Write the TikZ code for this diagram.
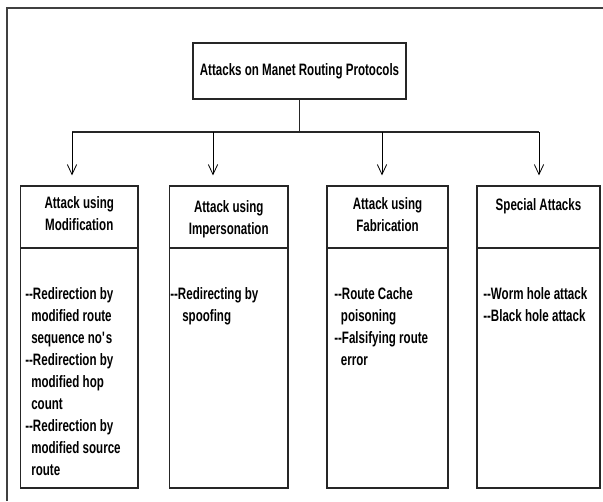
\documentclass[tikz,border=0pt]{standalone}
\usepackage{fontspec}
\setmainfont[FakeStretch=0.7]{Liberation Sans}
\usepackage{tikz}
\usetikzlibrary{arrows.meta}
\newcommand{\dsh}{\mbox{-}\mbox{-}}

\begin{document}
\begin{tikzpicture}[x=0.75pt, y=-0.75pt, every node/.style={font=\fontsize{12.4}{16.5}\selectfont\bfseries, inner sep=0pt}]
    % Styles
    \tikzstyle{outer} = [draw=black!75, line width=0.8pt]
    \tikzstyle{cell} = [rectangle, draw=black!85, line width=0.9pt]
    \tikzstyle{wire} = [draw=black!85, line width=1pt]
    \tikzstyle{arrow} = [-{Straight Barb[length=7.5pt, width=7pt]}, line width=0.6pt, shorten >=7.5pt]
    \tikzstyle{headtext} = [anchor=base, align=center]
    \tikzstyle{bodytext} = [anchor=base west, align=left]

    \useasboundingbox (0,0) rectangle (603,501);
    \draw[outer] (7,501) -- (7,8) -- (603,8);

    % Nodes
    \node[cell, minimum width=159.75pt, minimum height=42pt] (root) at (299.5,71) {Attacks on Manet Routing Protocols};

    \node[cell, minimum width=88.1pt, minimum height=46.5pt] (modhead) at (79.25,217) {};
    \node[cell, minimum width=88.1pt, minimum height=180pt] (modbody) at (79.25,368) {};
    \node[cell, minimum width=88.9pt, minimum height=46.5pt] (imphead) at (228.75,217) {};
    \node[cell, minimum width=88.9pt, minimum height=180pt] (impbody) at (228.75,368) {};
    \node[cell, minimum width=90.75pt, minimum height=46.5pt] (fabhead) at (387.5,217) {};
    \node[cell, minimum width=90.75pt, minimum height=180pt] (fabbody) at (387.5,368) {};
    \node[cell, minimum width=92.25pt, minimum height=46.5pt] (spchead) at (538.5,217) {};
    \node[cell, minimum width=92.25pt, minimum height=180pt] (spcbody) at (538.5,368) {};

    % Texts (base = last line)
    \node[headtext] (modtitle) at (79.25,230) {Attack using\\Modification};
    \node[headtext] (imptitle) at (228.75,234) {Attack using\\Impersonation};
    \node[headtext] (fabtitle) at (387.5,231) {Attack using\\Fabrication};
    \node[headtext] (spctitle) at (538.5,210) {Special Attacks};

    \node[bodytext] (modtext) at (25,475) {\dsh Redirection by\\\hspace{4.5pt}modified route\\\hspace{4.5pt}sequence no\textquotesingle s\\\dsh Redirection by\\\hspace{4.5pt}modified hop\\\hspace{4.5pt}count\\\dsh Redirection by\\\hspace{4.5pt}modified source\\\hspace{4.5pt}route};
    \node[bodytext] (imptext) at (170,321) {\dsh Redirecting by\\\hspace{9pt}spoofing};
    \node[bodytext] (fabtext) at (334,365) {\dsh Route Cache\\\hspace{5pt}poisoning\\\dsh Falsifying route\\\hspace{5pt}error};
    \node[bodytext] (spctext) at (483,321) {\dsh Worm hole attack\\\dsh Black hole attack};

    % Arrows
    \coordinate (busmod) at (72,132);
    \coordinate (busimp) at (213,132);
    \coordinate (busfab) at (382,132);
    \coordinate (busspc) at (539,132);
    \draw[wire] (root.south) -- (root.south |- busmod);
    \draw[wire] (busmod) -- (busspc);
    \draw[arrow] (busmod) -- (busmod |- modhead.north);
    \draw[arrow] (busimp) -- (busimp |- imphead.north);
    \draw[arrow] (busfab) -- (busfab |- fabhead.north);
    \draw[arrow] (busspc) -- (busspc |- spchead.north);
\end{tikzpicture}
\end{document}
